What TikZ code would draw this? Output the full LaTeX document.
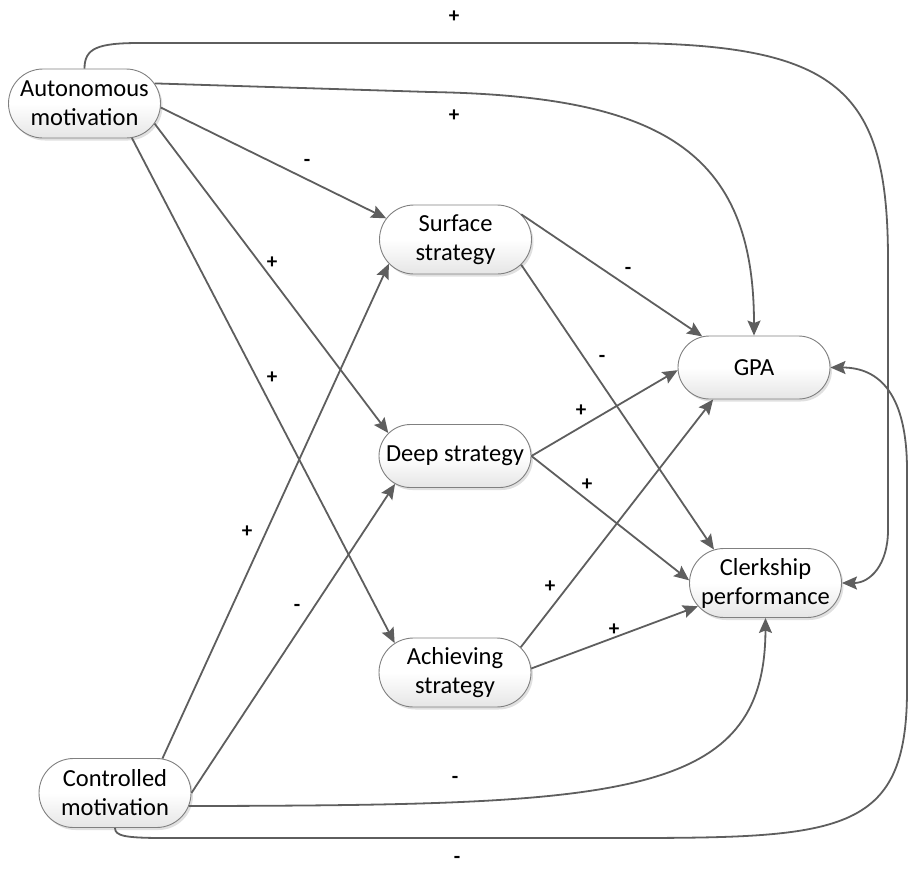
\documentclass[tikz,border=0pt]{standalone}
\usepackage{fontspec}
\setmainfont{Carlito}
\usetikzlibrary{shapes.misc,arrows.meta,shadows}
\definecolor{edgegray}{HTML}{5E5E5E}
\definecolor{boxline}{HTML}{808080}
\begin{document}
\begin{tikzpicture}[x=1pt,y=-1pt,
  box/.style={rounded rectangle, draw=boxline, line width=0.9pt,
    minimum width=156pt, minimum height=69pt, align=center, inner sep=2pt,
    font=\fontsize{24.5}{29}\selectfont,
    top color=white, bottom color=black!10, middle color=white,
    drop shadow={shadow xshift=2pt, shadow yshift=-2.5pt, fill=black!35, opacity=0.35}},
  onebox/.style={box, minimum height=63pt},
  conn/.style={draw=edgegray, line width=1.8pt,
    -{Stealth[length=15pt,width=13pt,inset=2.5pt]}},
  lbl/.style={font=\fontsize{21}{22}\selectfont\bfseries, inner sep=0pt}
]
\useasboundingbox (0,0) rectangle (911,871);

% nodes
\node[box] (A) at (84.5,103.5) {Autonomous\\motivation};
\node[box] (S) at (455.5,239.5) {Surface\\strategy};
\node[onebox] (G) at (754,367.5) {GPA};
\node[onebox] (D) at (455,456) {Deep strategy};
\node[box] (C) at (765.5,583) {Clerkship\\performance};
\node[box] (H) at (455,672.5) {Achieving\\strategy};
\node[box] (K) at (115,793) {Controlled\\motivation};

% waypoints
\coordinate (t1) at (140,43);
\coordinate (t2) at (617,43);
\coordinate (t3) at (888,260);
\coordinate (t4) at (888,530);
\coordinate (g1) at (430,92);
\coordinate (b1) at (165,838);
\coordinate (b2) at (620,838);
\coordinate (b3) at (907,690);
\coordinate (b4) at (907,470);

% connectors
\draw[conn] (A.north) .. controls (84.5,48) and (98,43) .. (t1) -- (t2)
  .. controls (840,43) and (888,90) .. (t3) -- (t4)
  .. controls (888,565) and (870,583) .. (C.east);
\draw[conn] (A.16) -- (g1) .. controls (660,96) and (754,150) .. (G.north);
\draw[conn] (A.-3) -- (S.163);
\draw[conn] (A.-16) -- (D.161);
\draw[conn] (A.-36) -- (H.154);

\draw[conn] (K.36) -- (S.200);
\draw[conn] (K.east) -- (D.205);
\draw[conn] (K.-10) .. controls (620,805) and (765,800) .. (C.south);
\draw[conn] (K.south) .. controls (115,836) and (125,838) .. (b1) -- (b2)
  .. controls (840,838) and (907,835) .. (b3) -- (b4)
  .. controls (907,395) and (880,367.5) .. (G.east);

\draw[conn] (S.21) -- (G.149);
\draw[conn] (S.-21) -- (C.147);
\draw[conn] (D.east) -- (G.182);
\draw[conn] (D.east) -- (C.178);
\draw[conn] (H.21) -- (G.218);
\draw[conn] (H.3) -- (C.199);

% labels
\node[lbl] (l1) at (454,17) {+};
\node[lbl] (l2) at (454,116) {+};
\node[lbl] (l3) at (307,163) {-};
\node[lbl] (l4) at (272,263) {+};
\node[lbl] (l5) at (272,378) {+};
\node[lbl] (l6) at (247,532) {+};
\node[lbl] (l7) at (297,608) {-};
\node[lbl] (l8) at (628,271) {-};
\node[lbl] (l9) at (602,359) {-};
\node[lbl] (l10) at (581,411) {+};
\node[lbl] (l11) at (587,485) {+};
\node[lbl] (l12) at (550,587) {+};
\node[lbl] (l13) at (614,630) {+};
\node[lbl] (l14) at (455,780) {-};
\node[lbl] (l15) at (457,860) {-};
\end{tikzpicture}
\end{document}
